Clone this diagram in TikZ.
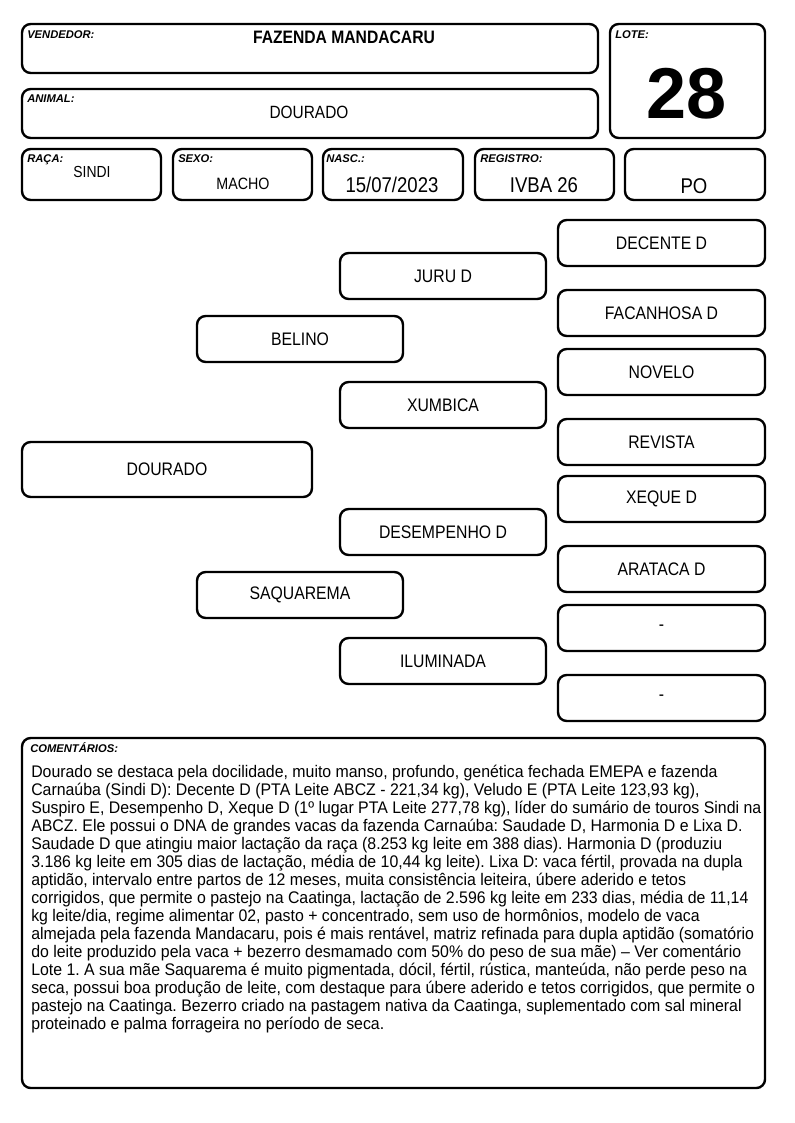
\documentclass[tikz,border=0pt]{standalone}
\usepackage{fontspec}
\setmainfont{Liberation Sans}
\newfontfamily\nf[FakeStretch=0.87]{Liberation Sans}
\newfontfamily\cf[FakeStretch=0.945]{Liberation Sans}
\frenchspacing
\begin{document}
\begin{tikzpicture}[x=0.75pt,y=-0.75pt,
  box/.style={draw, line width=1.8pt, rounded corners=6.5pt, inner sep=0pt},
  lbl/.style={anchor=base west, inner sep=0pt, font=\fontsize{8.4pt}{9pt}\selectfont\bfseries\itshape},
  val/.style={anchor=base, inner sep=0pt},
  ped/.style={box, minimum width=206*0.75pt, minimum height=46*0.75pt, font=\nf\fontsize{13.6pt}{15pt}\selectfont},
  pedr/.style={box, minimum width=207*0.75pt, minimum height=46*0.75pt, font=\nf\fontsize{13.6pt}{15pt}\selectfont}]
\useasboundingbox (0,0) rectangle (794,1123);
% header boxes
\node[box, minimum width=576*0.75pt, minimum height=49*0.75pt] (vend) at (310,48.5) {};
\node[box, minimum width=155*0.75pt, minimum height=114*0.75pt] (lote) at (687.5,81) {};
\node[box, minimum width=576*0.75pt, minimum height=49*0.75pt] (anim) at (310,113.5) {};
\node[box, minimum width=139*0.75pt, minimum height=51*0.75pt] (raca) at (91.5,174.5) {};
\node[box, minimum width=139*0.75pt, minimum height=51*0.75pt] (sexo) at (242.5,174.5) {};
\node[box, minimum width=140*0.75pt, minimum height=51*0.75pt] (nasc) at (393,174.5) {};
\node[box, minimum width=139*0.75pt, minimum height=51*0.75pt] (reg) at (544.5,174.5) {};
\node[box, minimum width=140*0.75pt, minimum height=51*0.75pt] (po) at (695,174.5) {};
% header texts
\node[lbl] (lvend) at (27,39) {VENDEDOR:};
\node[val, font=\nf\fontsize{13.5pt}{15pt}\selectfont\bfseries] (tvend) at (344,44) {FAZENDA MANDACARU};
\node[lbl] (llote) at (615,39) {LOTE:};
\node[val, font=\fontsize{54pt}{60pt}\selectfont\bfseries] (tlote) at (687,119) {28};
\node[lbl] (lanim) at (27,103) {ANIMAL:};
\node[val, font=\nf\fontsize{13.3pt}{15pt}\selectfont] (tanim) at (309,119) {DOURADO};
\node[lbl] (lraca) at (27,163) {RAÇA:};
\node[val, font=\nf\fontsize{12pt}{14pt}\selectfont] (traca) at (92,178) {SINDI};
\node[lbl] (lsexo) at (178,163) {SEXO:};
\node[val, font=\nf\fontsize{12.3pt}{14pt}\selectfont] (tsexo) at (243,190) {MACHO};
\node[lbl] (lnasc) at (326,163) {NASC.:};
\node[val, font=\nf\fontsize{16pt}{18pt}\selectfont] (tnasc) at (392,193) {15/07/2023};
\node[lbl] (lreg) at (480,163) {REGISTRO:};
\node[val, font=\nf\fontsize{16pt}{18pt}\selectfont] (treg) at (544,193) {IVBA 26};
\node[val, font=\nf\fontsize{16pt}{18pt}\selectfont] (tpo) at (694,194) {PO};
% pedigree
\node[box, minimum width=290*0.75pt, minimum height=55*0.75pt, font=\nf\fontsize{13.6pt}{15pt}\selectfont] (dourado) at (167,469.5) {DOURADO};
\node[ped] (belino) at (300,339) {BELINO};
\node[ped] (saquarema) at (300,595) {SAQUAREMA};
\node[ped] (juru) at (443,276) {JURU D};
\node[ped] (xumbica) at (443,405) {XUMBICA};
\node[ped] (desempenho) at (443,532) {DESEMPENHO D};
\node[ped] (iluminada) at (443,661) {ILUMINADA};
\node[pedr] (decente) at (661.5,243) {DECENTE D};
\node[pedr] (facanhosa) at (661.5,313) {FACANHOSA D};
\node[pedr] (novelo) at (661.5,372) {NOVELO};
\node[pedr] (revista) at (661.5,442) {REVISTA};
\node[pedr] (xeque) at (661.5,499) {XEQUE D};
\node[pedr] (arataca) at (661.5,569) {ARATACA D};
\node[pedr] (vazio1) at (661.5,628) {-};
\node[pedr] (vazio2) at (661.5,698) {-};
% comments
\node[box, minimum width=743*0.75pt, minimum height=350*0.75pt] (coment) at (393.5,913) {};
\node[lbl] (lcoment) at (30,752) {COMENTÁRIOS:};
\node[anchor=north west, inner sep=0pt, align=left, font=\cf\fontsize{12.6pt}{13.5pt}\selectfont] (tcoment) at (31,765) {%
Dourado se destaca pela docilidade, muito manso, profundo, genética fechada EMEPA e fazenda\\
Carnaúba (Sindi D): Decente D (PTA Leite ABCZ - 221,34 kg), Veludo E (PTA Leite 123,93 kg),\\
Suspiro E, Desempenho D, Xeque D (1º lugar PTA Leite 277,78 kg), líder do sumário de touros Sindi na\\
ABCZ. Ele possui o DNA de grandes vacas da fazenda Carnaúba: Saudade D, Harmonia D e Lixa D.\\
Saudade D que atingiu maior lactação da raça (8.253 kg leite em 388 dias). Harmonia D (produziu\\
3.186 kg leite em 305 dias de lactação, média de 10,44 kg leite). Lixa D: vaca fértil, provada na dupla\\
aptidão, intervalo entre partos de 12 meses, muita consistência leiteira, úbere aderido e tetos\\
corrigidos, que permite o pastejo na Caatinga, lactação de 2.596 kg leite em 233 dias, média de 11,14\\
kg leite/dia, regime alimentar 02, pasto + concentrado, sem uso de hormônios, modelo de vaca\\
almejada pela fazenda Mandacaru, pois é mais rentável, matriz refinada para dupla aptidão (somatório\\
do leite produzido pela vaca + bezerro desmamado com 50\% do peso de sua mãe) – Ver comentário\\
Lote 1. A sua mãe Saquarema é muito pigmentada, dócil, fértil, rústica, manteúda, não perde peso na\\
seca, possui boa produção de leite, com destaque para úbere aderido e tetos corrigidos, que permite o\\
pastejo na Caatinga. Bezerro criado na pastagem nativa da Caatinga, suplementado com sal mineral\\
proteinado e palma forrageira no período de seca.};
\end{tikzpicture}
\end{document}
